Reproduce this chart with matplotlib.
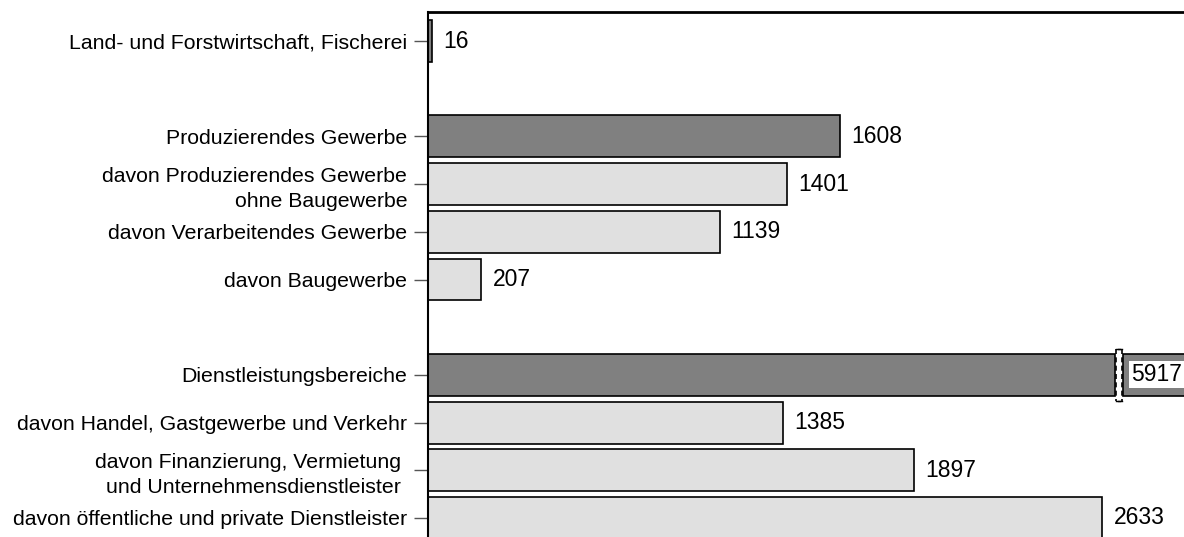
import matplotlib.pyplot as plt
import numpy as np

plt.rcParams['font.family'] = ['Liberation Sans', 'DejaVu Sans']

labels = ['Land- und Forstwirtschaft, Fischerei',
          'Produzierendes Gewerbe',
          'davon Produzierendes Gewerbe\nohne Baugewerbe',
          'davon Verarbeitendes Gewerbe',
          'davon Baugewerbe',
          'Dienstleistungsbereiche',
          'davon Handel, Gastgewerbe und Verkehr',
          'davon Finanzierung, Vermietung \nund Unternehmensdienstleister ',
          'davon öffentliche und private Dienstleister']
values = [16, 1608, 1401, 1139, 207, 5917, 1385, 1897, 2633]
positions = [0, 2, 3, 4, 5, 7, 8, 9, 10]
is_total = [True, True, False, False, False, True, False, False, False]

dark = '#808080'
light = '#e0e0e0'
xmax = 2953
break_lo, break_hi = 2684, 2715  # axis break for bars beyond the scale

fig = plt.figure(figsize=(11.84, 5.37), dpi=100)
ax = fig.add_axes([428 / 1184, 0, 1 - 428 / 1184, 1 - 12 / 537])

bh = 0.88
vfs = 16.5
for pos, val, tot in zip(positions, values, is_total):
    col = dark if tot else light
    if val > xmax:
        ax.barh(pos, break_lo, height=bh, color=col, edgecolor='black', linewidth=1.2)
        ax.barh(pos, xmax + 200 - break_hi, left=break_hi, height=bh, color=col,
                edgecolor='black', linewidth=1.2)
        y0, y1 = pos - bh / 2 - 0.1, pos + bh / 2 + 0.1
        for bx in (break_lo + 4, break_hi - 4):
            ax.plot([bx, bx], [y0, y1], color='black', linestyle=(0, (3, 2)), linewidth=1.2)
        for yy in (y0, y1):
            ax.plot([break_lo + 4, break_lo + 18], [yy, yy], color='black', lw=1)
            ax.plot([break_hi - 18, break_hi - 4], [yy, yy], color='black', lw=1)
        ax.text(break_hi + 32, pos, str(val), va='center', ha='left', fontsize=vfs,
                bbox=dict(facecolor='white', edgecolor='none', pad=1.5))
    else:
        ax.barh(pos, val, height=bh, color=col, edgecolor='black', linewidth=1.2)
        ax.text(val + 45, pos, str(val), va='center', ha='left', fontsize=vfs)

ax.set_xlim(0, xmax)
ax.set_ylim(10.4, -0.61)
ax.set_yticks(positions)
ax.set_yticklabels(labels, fontsize=15.3, ha='right', multialignment='right',
                   linespacing=1.4)
ax.tick_params(axis='y', length=10, width=1, color='#555555', pad=5)
ax.set_xticks([])
for s in ['right', 'bottom']:
    ax.spines[s].set_visible(False)
ax.spines['left'].set_linewidth(1.5)
ax.spines['top'].set_linewidth(2)

fig.savefig('out.png', dpi=100)
